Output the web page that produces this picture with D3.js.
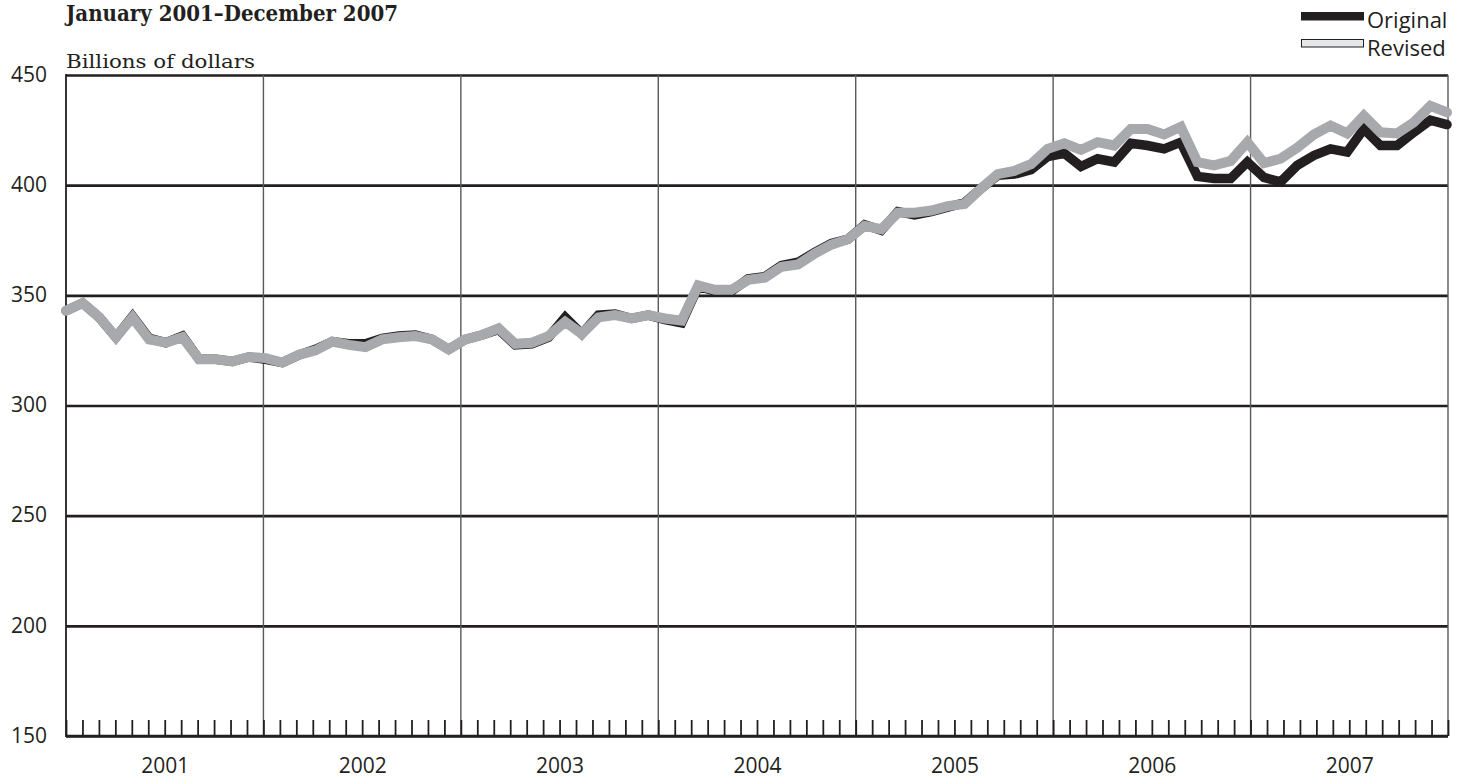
<!DOCTYPE html>
<html>
<head>
<meta charset="utf-8">
<script src="https://cdn.jsdelivr.net/npm/d3@7"></script>
<style>
  html, body { margin: 0; padding: 0; background: #fff; }
  svg { display: block; }
</style>
</head>
<body>
<svg id="chart" width="1468" height="782"></svg>
<script>
// ---- data ----
const years = ["2001", "2002", "2003", "2004", "2005", "2006", "2007"];
const months = years.flatMap(y => ["01","02","03","04","05","06","07","08","09","10","11","12"].map(m => y + "-" + m));
const yTicks = [150, 200, 250, 300, 350, 400, 450];
const original = [
  343, 346.5, 340, 331, 340.5, 330.5, 328.5, 331.5, 321, 321, 320, 322,
  321, 319.5, 323, 325.5, 329, 328, 328, 330.5, 331.5, 332, 330, 325.5,
  330, 332, 334.5, 327.5, 328, 331, 340, 332.5, 341, 341.5, 339.5, 341,
  339, 337.5, 354, 352, 352, 357.5, 358.5, 363.5, 365, 369.5, 373.5, 375.5,
  382, 379.5, 388, 386.5, 388, 390, 392, 398.5, 404.5, 405, 407, 413,
  414.5, 408.5, 412, 410.5, 419, 418, 416.5, 419.5, 404, 403, 403, 410.5,
  403.5, 401.5, 409, 413.5, 416.5, 415, 425.5, 418, 418, 424, 429.5, 427.5
];
const revised = [
  343, 346.5, 340, 331, 340, 330, 328.5, 331, 321, 321, 320, 322,
  321.5, 319.5, 323, 325, 329, 327.5, 326.5, 330, 331, 331.5, 330, 325.5,
  330, 332, 335, 328, 328.5, 331.5, 338, 332.5, 340, 341, 339.5, 341,
  339.5, 338.5, 354.5, 352.5, 352.5, 357, 358, 363, 364, 369, 373, 375.5,
  381.5, 380, 387.5, 387.5, 388.5, 390.5, 391.5, 398.5, 405, 406.5, 409.5, 416.5,
  419, 416, 419.5, 418, 425.5, 425.5, 423, 426.5, 410.5, 409, 411, 419.5,
  410, 412, 417, 423, 427, 423.5, 431.5, 424, 423.5, 428.5, 436, 433
];
const seriesNames = ["Original", "Revised"];
const titleText = "January 2001\u2013December 2007";
const unitText = "Billions of dollars";

// ---- layout ----
const L = 66, R = 1448, T = 75, B = 736;
const svg = d3.select("#chart");
const dark = "#231f20", gridGray = "#58595b", lineGray = "#a7a9ac";

const y = d3.scaleLinear().domain([150, 450]).range([B, T]);
const xm = d3.scaleLinear().domain([0, months.length]).range([L, R]);   // month boundaries
const xp = d3.scalePoint().domain(months).range([L, R - 1]);           // data points

// horizontal gridlines + y labels
const yAxis = svg.append("g").attr("transform", `translate(${L},0)`)
  .call(d3.axisLeft(y).tickValues(yTicks).tickSize(-(R - L)).tickPadding(19).tickFormat(d3.format("d")));
yAxis.select(".domain").remove();
yAxis.selectAll(".tick line").attr("stroke", dark).attr("stroke-width", 2.6)
  .attr("x1", 0);
yAxis.selectAll(".tick text").attr("fill", dark)
  .style("font-family", "'Open Sans', sans-serif").style("font-size", "21px").attr("dy", "0.3em");

// vertical year lines
svg.append("g").selectAll("line").data(d3.range(1, years.length + 1)).join("line")
  .attr("x1", i => xm(i * 12)).attr("x2", i => xm(i * 12))
  .attr("y1", T).attr("y2", B)
  .attr("stroke", gridGray).attr("stroke-width", 1.4);
// left axis line
svg.append("line").attr("x1", L).attr("x2", L).attr("y1", T - 1).attr("y2", B + 1)
  .attr("stroke", dark).attr("stroke-width", 1.8);

// month ticks
const xAxis = svg.append("g").attr("transform", `translate(0,${B})`)
  .call(d3.axisBottom(xm).tickValues(d3.range(0, months.length + 1)).tickSize(-16).tickFormat(""));
xAxis.select(".domain").attr("stroke", dark).attr("stroke-width", 2.4).attr("d", `M${L},0H${R}`);
xAxis.selectAll(".tick line").attr("stroke", dark).attr("stroke-width", 1.8);

// year labels
const yearAxis = svg.append("g").attr("transform", `translate(0,${B})`)
  .call(d3.axisBottom(xm).tickValues(years.map((d, i) => i * 12 + 6)).tickSize(0).tickPadding(22)
    .tickFormat((d, i) => years[i]));
yearAxis.select(".domain").remove();
yearAxis.selectAll("text").attr("fill", dark)
  .style("font-family", "'Open Sans', sans-serif").style("font-size", "21px");

// lines
const line = d3.line().x((d, i) => xp(months[i])).y(d => y(d));
svg.append("path").datum(original).attr("d", line)
  .attr("fill", "none").attr("stroke", dark).attr("stroke-width", 9.5)
  .attr("stroke-linejoin", "miter").attr("stroke-linecap", "round");
svg.append("path").datum(revised).attr("d", line)
  .attr("fill", "none").attr("stroke", lineGray).attr("stroke-width", 10)
  .attr("stroke-linejoin", "miter").attr("stroke-linecap", "round");

// title & unit
svg.append("text").attr("x", L).attr("y", 21).text(titleText)
  .attr("fill", dark)
  .style("font-family", "'DejaVu Serif', serif")
  .style("font-weight", "bold").style("font-size", "22px")
  .attr("textLength", 332).attr("lengthAdjust", "spacingAndGlyphs");
svg.append("text").attr("x", L).attr("y", 68).text(unitText)
  .attr("fill", dark)
  .style("font-family", "'DejaVu Serif', serif").style("font-size", "18.5px")
  .attr("textLength", 189).attr("lengthAdjust", "spacingAndGlyphs");

// legend
const leg = svg.append("g");
const legY = [12, 39.5];
leg.selectAll("rect").data(seriesNames).join("rect")
  .attr("x", (d, i) => i === 0 ? 1301 : 1301.5).attr("y", (d, i) => legY[i])
  .attr("width", (d, i) => i === 0 ? 63 : 62).attr("height", (d, i) => i === 0 ? 8.5 : 7.5)
  .attr("fill", (d, i) => i === 0 ? dark : "#e6e7e8")
  .attr("stroke", (d, i) => i === 0 ? "none" : dark).attr("stroke-width", 1);
leg.selectAll("text").data(seriesNames).join("text")
  .attr("x", 1367).attr("y", (d, i) => [27.5, 55.5][i]).text(d => d)
  .attr("fill", dark)
  .style("font-family", "'Open Sans', sans-serif").style("font-size", "22px");
</script>
</body>
</html>
